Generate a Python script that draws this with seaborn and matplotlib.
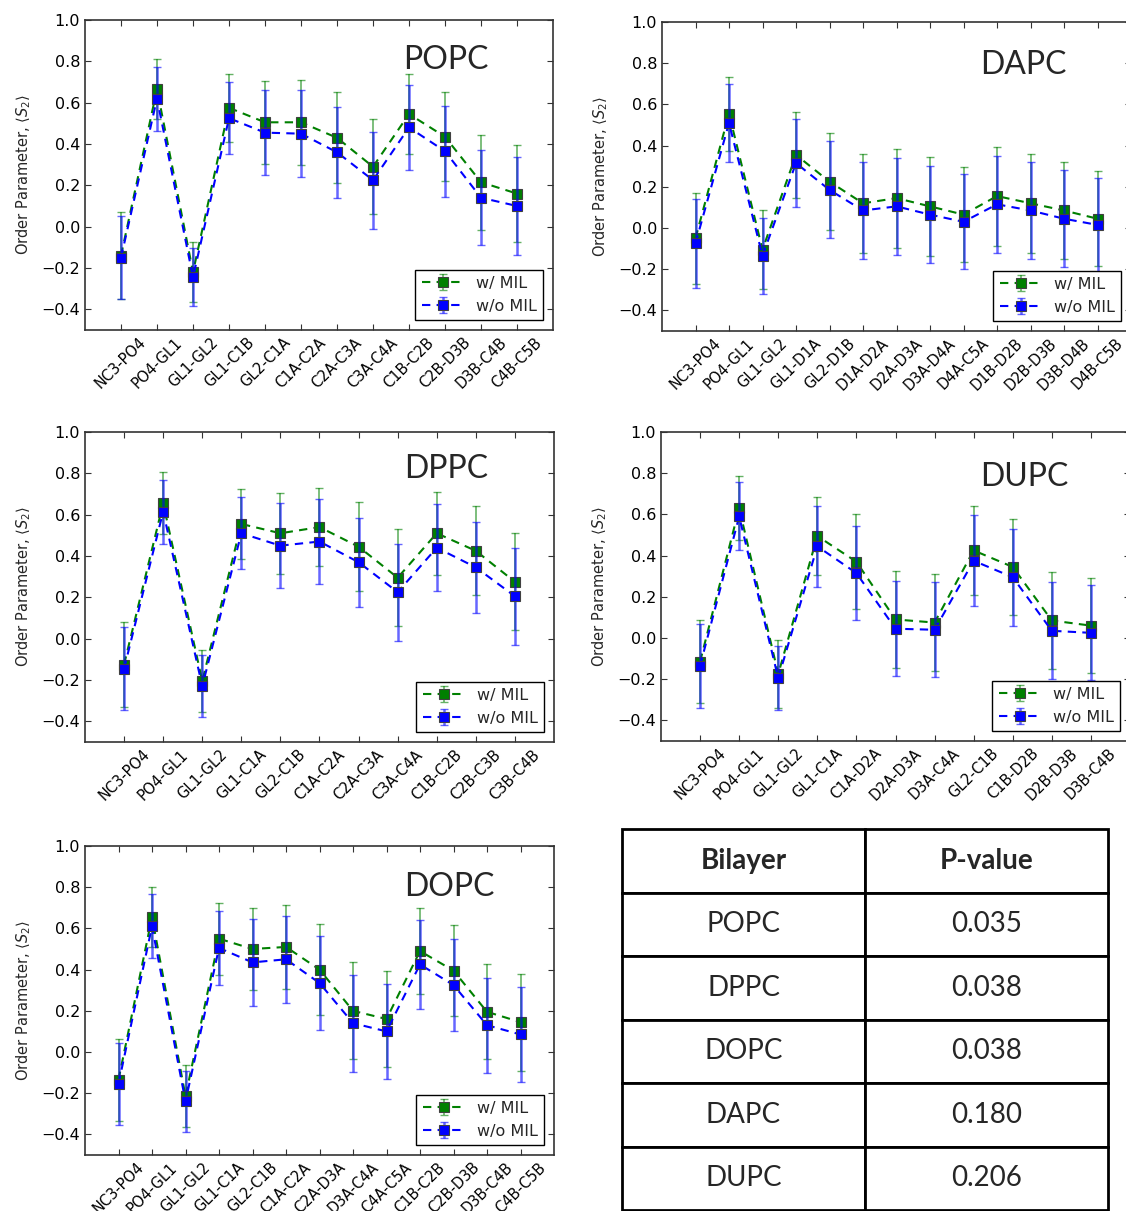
import matplotlib
matplotlib.use('Agg')
import matplotlib.pyplot as plt
import seaborn as sns
from matplotlib.legend_handler import HandlerTuple

# Bond labels for each bilayer
popc_bonds = ['NC3-PO4', 'PO4-GL1', 'GL1-GL2', 'GL1-C1B', 'GL2-C1A', 'C1A-C2A', 'C2A-C3A',
              'C3A-C4A', 'C1B-C2B', 'C2B-D3B', 'D3B-C4B', 'C4B-C5B']
dapc_bonds = ['NC3-PO4', 'PO4-GL1', 'GL1-GL2', 'GL1-D1A', 'GL2-D1B', 'D1A-D2A', 'D2A-D3A',
              'D3A-D4A', 'D4A-C5A', 'D1B-D2B', 'D2B-D3B', 'D3B-D4B', 'D4B-C5B']
dppc_bonds = ['NC3-PO4', 'PO4-GL1', 'GL1-GL2', 'GL1-C1A', 'GL2-C1B', 'C1A-C2A', 'C2A-C3A',
              'C3A-C4A', 'C1B-C2B', 'C2B-C3B', 'C3B-C4B']
dupc_bonds = ['NC3-PO4', 'PO4-GL1', 'GL1-GL2', 'GL1-C1A', 'C1A-D2A', 'D2A-D3A', 'D3A-C4A',
              'GL2-C1B', 'C1B-D2B', 'D2B-D3B', 'D3B-C4B']
dopc_bonds = ['NC3-PO4', 'PO4-GL1', 'GL1-GL2', 'GL1-C1A', 'GL2-C1B', 'C1A-C2A', 'C2A-D3A',
              'D3A-C4A', 'C4A-C5A', 'C1B-C2B', 'C2B-D3B', 'D3B-C4B', 'C4B-C5B']

# Order parameters, w/ MIL and w/o MIL, with error bars
popc_mil = [-0.14, 0.665, -0.22, 0.575, 0.505, 0.505, 0.43, 0.29, 0.545, 0.435, 0.215, 0.16]
popc_mil_err = [0.21, 0.145, 0.145, 0.165, 0.2, 0.205, 0.22, 0.23, 0.195, 0.215, 0.23, 0.235]
popc_nomil = [-0.15, 0.62, -0.245, 0.525, 0.455, 0.45, 0.36, 0.225, 0.48, 0.365, 0.14, 0.1]
popc_nomil_err = [0.2, 0.155, 0.14, 0.175, 0.205, 0.21, 0.22, 0.235, 0.205, 0.22, 0.23, 0.235]

dapc_mil = [-0.05, 0.555, -0.105, 0.355, 0.225, 0.12, 0.145, 0.105, 0.065, 0.155, 0.12, 0.085, 0.045]
dapc_mil_err = [0.22, 0.18, 0.19, 0.21, 0.235, 0.24, 0.24, 0.24, 0.23, 0.24, 0.24, 0.235, 0.23]
dapc_nomil = [-0.075, 0.51, -0.135, 0.315, 0.185, 0.085, 0.105, 0.065, 0.03, 0.115, 0.085, 0.045, 0.015]
dapc_nomil_err = [0.215, 0.19, 0.185, 0.215, 0.235, 0.235, 0.235, 0.235, 0.23, 0.235, 0.235, 0.235, 0.23]

dppc_mil = [-0.125, 0.655, -0.205, 0.555, 0.51, 0.54, 0.445, 0.295, 0.51, 0.425, 0.275]
dppc_mil_err = [0.205, 0.15, 0.15, 0.17, 0.195, 0.19, 0.215, 0.235, 0.2, 0.215, 0.235]
dppc_nomil = [-0.145, 0.615, -0.23, 0.51, 0.45, 0.47, 0.37, 0.225, 0.44, 0.345, 0.205]
dppc_nomil_err = [0.2, 0.155, 0.15, 0.175, 0.205, 0.205, 0.215, 0.235, 0.21, 0.22, 0.235]

dupc_mil = [-0.115, 0.63, -0.175, 0.495, 0.37, 0.09, 0.075, 0.425, 0.345, 0.085, 0.06]
dupc_mil_err = [0.2, 0.155, 0.165, 0.19, 0.23, 0.235, 0.235, 0.215, 0.235, 0.235, 0.23]
dupc_nomil = [-0.135, 0.59, -0.195, 0.445, 0.315, 0.045, 0.04, 0.375, 0.295, 0.035, 0.025]
dupc_nomil_err = [0.205, 0.165, 0.155, 0.195, 0.23, 0.23, 0.23, 0.22, 0.235, 0.235, 0.23]

dopc_mil = [-0.135, 0.655, -0.215, 0.55, 0.5, 0.51, 0.4, 0.2, 0.16, 0.49, 0.395, 0.195, 0.145]
dopc_mil_err = [0.2, 0.145, 0.15, 0.175, 0.2, 0.205, 0.22, 0.235, 0.235, 0.21, 0.22, 0.23, 0.235]
dopc_nomil = [-0.155, 0.61, -0.24, 0.505, 0.435, 0.45, 0.335, 0.14, 0.1, 0.425, 0.325, 0.13, 0.085]
dopc_nomil_err = [0.2, 0.155, 0.15, 0.18, 0.21, 0.21, 0.23, 0.235, 0.23, 0.215, 0.225, 0.23, 0.23]

# P-value table
table_bilayers = ['POPC', 'DPPC', 'DOPC', 'DAPC', 'DUPC']
table_pvalues = ['0.035', '0.038', '0.038', '0.180', '0.206']

sns.set_style('ticks', {'xtick.direction': 'in', 'ytick.direction': 'in'})
plt.rcParams['xtick.top'] = True
plt.rcParams['ytick.right'] = True
plt.rcParams['axes.edgecolor'] = '0.2'

W, H = 1126, 1211
fig = plt.figure(figsize=(W / 100, H / 100), dpi=100)


def px_axes(left, top, right, bottom):
    return fig.add_axes([left / W, (H - bottom) / H, (right - left) / W, (bottom - top) / H])


def draw_panel(ax, name, bonds, mil, mil_err, nomil, nomil_err, tx, ty):
    x = list(range(len(bonds)))
    handles = []
    for y, err, col, lab, z in [(mil, mil_err, 'green', 'w/ MIL', 2),
                                (nomil, nomil_err, 'blue', 'w/o MIL', 4)]:
        eb = ax.errorbar(x, y, yerr=err, fmt='none', ecolor=col, elinewidth=1.8 if col == 'blue' else 1.2,
                         capsize=3, capthick=1, alpha=0.6, zorder=z - 1)
        sns.lineplot(x=x, y=y, ax=ax, color=col, marker='s', markersize=7,
                     markeredgecolor='0.25', markeredgewidth=0.8, linestyle='--',
                     dashes=False, linewidth=1.5, zorder=z)
        line = ax.lines[-1]
        line.set_linestyle((0, (4, 3)))
        handles.append(((eb, line), lab))
    ax.set_xlim(-1, len(bonds))
    ax.set_ylim(-0.5, 1.0)
    ax.set_yticks([-0.4, -0.2, 0.0, 0.2, 0.4, 0.6, 0.8, 1.0])
    ax.set_yticklabels(['\u22120.4', '\u22120.2', '0.0', '0.2', '0.4', '0.6', '0.8', '1.0'], fontsize=11.5)
    ax.set_xticks(x)
    ax.set_xticklabels(bonds, rotation=45, ha='center', fontsize=10.5)
    ax.tick_params(length=4, width=0.8, colors='0.2', labelcolor='black')
    ax.set_ylabel(r'Order Parameter, $\langle S_2 \rangle$', fontsize=10.5, labelpad=6)
    ax.set_xlabel('')
    ax.text(tx, ty, name, transform=ax.transAxes, fontsize=23, family='Lato',
            ha='left', va='center')
    leg = ax.legend([h for h, _ in handles], [l for _, l in handles],
                    handler_map={tuple: HandlerTuple(ndivide=1, pad=0)},
                    loc='lower right', fontsize=11.5, handlelength=2.6, fancybox=False,
                    framealpha=1, borderaxespad=0.6, borderpad=0.4, labelspacing=0.5)
    leg.get_frame().set_edgecolor('black')
    leg.get_frame().set_linewidth(1.0)
    for sp in ax.spines.values():
        sp.set_linewidth(1.2)


ax1 = px_axes(85, 20, 553, 330)
draw_panel(ax1, 'POPC', popc_bonds, popc_mil, popc_mil_err, popc_nomil, popc_nomil_err, 0.68, 0.87)
ax2 = px_axes(662, 22, 1131, 331)
draw_panel(ax2, 'DAPC', dapc_bonds, dapc_mil, dapc_mil_err, dapc_nomil, dapc_nomil_err, 0.678, 0.86)
ax3 = px_axes(85, 432, 554, 742)
draw_panel(ax3, 'DPPC', dppc_bonds, dppc_mil, dppc_mil_err, dppc_nomil, dppc_nomil_err, 0.68, 0.88)
ax4 = px_axes(661, 432, 1130, 741)
draw_panel(ax4, 'DUPC', dupc_bonds, dupc_mil, dupc_mil_err, dupc_nomil, dupc_nomil_err, 0.68, 0.855)
ax5 = px_axes(85, 846, 554, 1155)
draw_panel(ax5, 'DOPC', dopc_bonds, dopc_mil, dopc_mil_err, dopc_nomil, dopc_nomil_err, 0.68, 0.867)

# P-value table
axt = px_axes(622, 829, 1108, 1210)
axt.axis('off')
cell_text = [[b, p] for b, p in zip(table_bilayers, table_pvalues)]
tbl = axt.table(cellText=cell_text, colLabels=['Bilayer', 'P-value'],
                cellLoc='center', bbox=[0, 0, 1, 1])
tbl.auto_set_font_size(False)
for (r, c), cell in tbl.get_celld().items():
    cell.set_linewidth(2)
    cell.set_edgecolor('black')
    cell.get_text().set_fontsize(20)
    cell.get_text().set_family('Lato')
    if r == 0:
        cell.get_text().set_fontweight('bold')

fig.savefig('out.png', dpi=100)
